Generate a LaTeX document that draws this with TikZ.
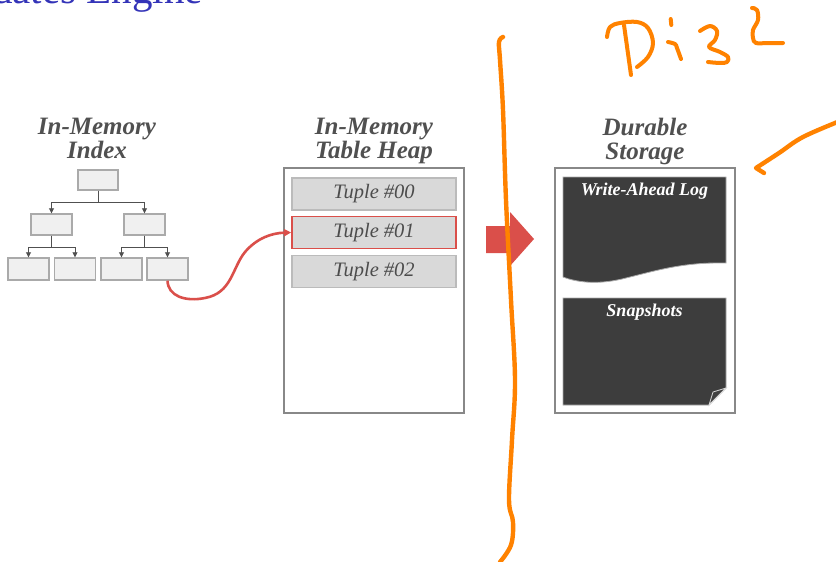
\documentclass[tikz,border=0pt]{standalone}
\usepackage{fontspec}
\setmainfont{Liberation Serif}
\usetikzlibrary{arrows.meta,calc}

\definecolor{labelgray}{HTML}{505050}
\definecolor{boxfill}{HTML}{F0F0F0}
\definecolor{boxline}{HTML}{AAAAAA}
\definecolor{tuplefill}{HTML}{D9D9D9}
\definecolor{tupleline}{HTML}{BBBBBB}
\definecolor{frameline}{HTML}{888888}
\definecolor{hotred}{HTML}{DA4F4A}
\definecolor{docfill}{HTML}{3D3D3D}
\definecolor{titleblue}{HTML}{3434B8}
\definecolor{penorange}{HTML}{FF8200}

\tikzset{
  x=1pt, y=-1pt,
  treebox/.style={draw=boxline, fill=boxfill, line width=1.4pt, inner sep=0pt,
                  minimum width=41pt, minimum height=21pt},
  treelink/.style={draw=labelgray, line width=0.8pt,
                   -{Triangle[length=5pt,width=5pt]}},
  tuplebox/.style={draw=tupleline, fill=tuplefill, line width=1.4pt, inner sep=0pt,
                   minimum width=164pt, minimum height=32pt, text=black!70,
                   font=\itshape\fontsize{20.5}{20}\selectfont},
  framebox/.style={draw=frameline, fill=white, line width=1.8pt, inner sep=0pt,
                   minimum width=180pt, minimum height=245pt},
  heading/.style={align=center, text=labelgray, inner sep=0pt,
                  font=\bfseries\itshape\fontsize{25}{24}\selectfont},
  doclabel/.style={text=white, inner sep=0pt,
                   font=\bfseries\itshape\fontsize{18}{18}\selectfont},
  pen/.style={draw=penorange, line width=4.4pt, line cap=round, line join=round},
}

\begin{document}
\begin{tikzpicture}
\useasboundingbox (0,0) rectangle (836,562);

% slide title, cut by the page edge
\node[anchor=base east, inner sep=0pt, text=titleblue,
      font=\fontsize{41}{41}\selectfont] (slidetitle) at (203,3) {Updates Engine};

% ---------------- in-memory index ----------------
\node[heading, anchor=north] (idxhead) at (97,118) {In-Memory\\Index};

\node[treebox, minimum width=40pt, minimum height=20pt] (root) at (98,180) {};
\node[treebox] (ia) at (51.5,224.5) {};
\node[treebox] (ib) at (144.5,224.5) {};
\node[treebox, minimum height=22pt] (la) at (28.5,269) {};
\node[treebox, minimum height=22pt] (lb) at (75,269) {};
\node[treebox, minimum height=22pt] (lc) at (121.5,269) {};
\node[treebox, minimum height=22pt] (ld) at (167.5,269) {};

\draw[treelink] (root.south) -- ++(0,12) -| (ia.north);
\draw[treelink] (root.south) -- ++(0,12) -| (ib.north);
\draw[treelink] (ia.south) -- ++(0,12) -| (la.north);
\draw[treelink] (ia.south) -- ++(0,12) -| (lb.north);
\draw[treelink] (ib.south) -- ++(0,12) -| (lc.north);
\draw[treelink] (ib.south) -- ++(0,12) -| (ld.north);

% ---------------- in-memory table heap ----------------
\node[heading, anchor=north] (heaphead) at (374,118) {In-Memory\\Table Heap};
\node[framebox] (heap) at (374,290.5) {};
\node[tuplebox] (t00) at (374,194) {Tuple \#00};
\node[tuplebox, draw=hotred, line width=1.8pt] (t01) at (374,232.5) {Tuple \#01};
\node[tuplebox] (t02) at (374,271.5) {Tuple \#02};

% index entry pointing at its tuple
\draw[hotred, line width=2.6pt, -{Triangle[length=7pt,width=7pt]}]
  (ld.south) .. controls (168,296) and (185,302) .. (205,298)
  .. controls (232,293) and (232,268) .. (245,252)
  .. controls (257,238) and (272,233) .. (t01.west);

% flush arrow
\fill[hotred] (486,226) -- (510,226) -- (510,212) -- (534,239)
  -- (510,266) -- (510,253) -- (486,253) -- cycle;

% ---------------- durable storage ----------------
\node[heading, anchor=north] (durhead) at (645,118) {Durable\\Storage};
\node[framebox] (durable) at (645,290.5) {};

\filldraw[fill=docfill, draw=boxline, line width=0.8pt]
  (563,177) -- (726,177) -- (726,263)
  .. controls (682,262) and (655,271) .. (622,279)
  .. controls (596,285) and (576,282) .. (563,277) -- cycle;
\node[doclabel] (wal) at (644.5,191) {Write-Ahead Log};

\filldraw[fill=docfill, draw=boxline, line width=0.8pt]
  (563,298) -- (726,298) -- (726,388) -- (709,405) -- (563,405) -- cycle;
\filldraw[fill=black!75, draw=white!85!black, line width=0.8pt]
  (726,388) -- (713,392) -- (709,405) -- cycle;
\node[doclabel] (snap) at (644.5,312) {Snapshots};

% ---------------- pen strokes ----------------
\draw[pen] plot[smooth, tension=0.6] coordinates {
  (503,37) (499,42) (500,60) (503,110) (506,200) (511,300) (515,380)
  (512,440) (509,500) (513,522) (511,545) (500,562)};

\draw[pen] plot[smooth, tension=0.6] coordinates {
  (840,121) (803,137) (779,153) (756,168)} -- (764,173);

% "Di32"
\draw[pen, line width=4pt] (624,25) -- (631,75);
\draw[pen, line width=4pt] plot[smooth, tension=0.6] coordinates {
  (607,37) (610,27) (620,23) (637,22) (648,28) (653,43) (648,57) (637,67)};
\draw[pen, line width=4pt] (670.7,19) -- (671.3,25);
\draw[pen, line width=4pt] plot[smooth, tension=0.6] coordinates {
  (668,42) (675,44) (677,48) (681,59)};
\draw[pen, line width=4pt] plot[smooth, tension=0.6] coordinates {
  (700,31) (710,26) (717,31) (715,40) (709,47) (720,52) (728,57) (727,62) (720,63) (708,62)};
\draw[pen, line width=4pt] plot[smooth, tension=0.6] coordinates {
  (752,8) (757,10) (758,20) (753,30) (753,38) (756,43) (768,43) (783,43)};
\end{tikzpicture}
\end{document}
